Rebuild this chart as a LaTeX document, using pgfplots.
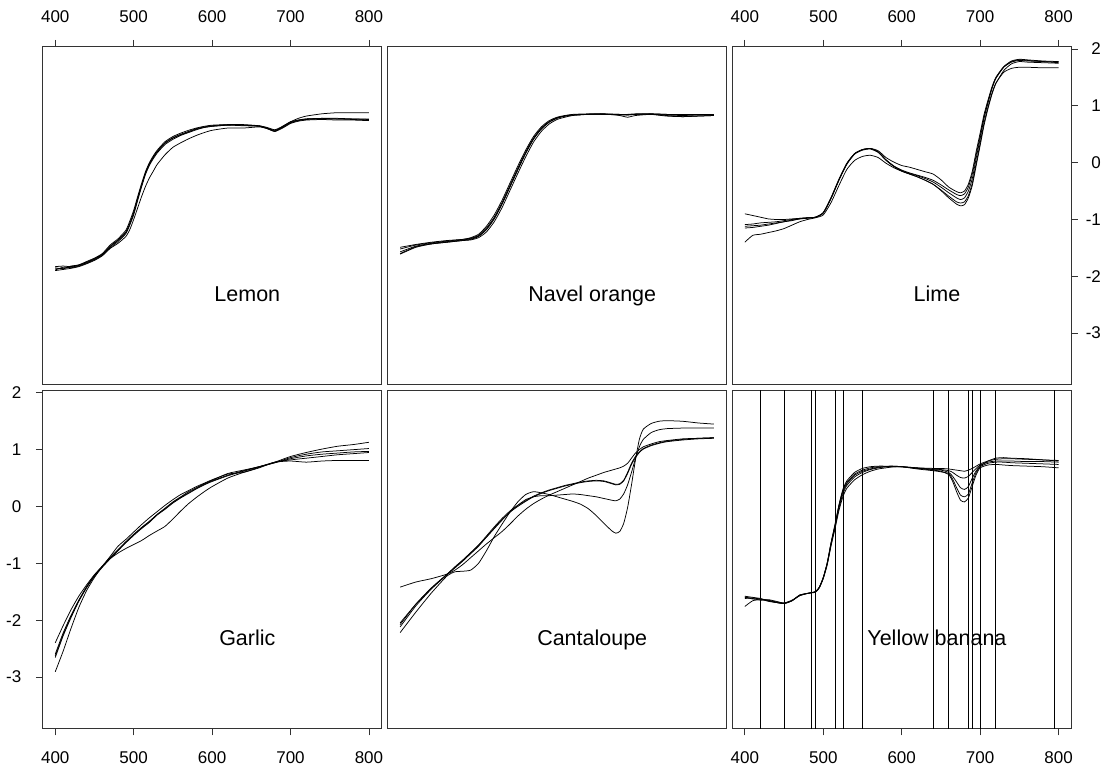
\documentclass[border=0pt]{standalone}
\usepackage{fontspec}
\setmainfont{Liberation Sans}
\usepackage{pgfplots}
\usepackage{pgfplotstable}
\pgfplotsset{compat=1.18}

\pgfplotstableread{
x a b c d e
400 -1.87 -1.83 -1.90 -1.85 -1.89
410 -1.86 -1.82 -1.88 -1.87 -1.84
420 -1.84 -1.83 -1.86 -1.82 -1.85
430 -1.81 -1.80 -1.83 -1.80 -1.82
440 -1.76 -1.74 -1.78 -1.75 -1.77
450 -1.70 -1.68 -1.72 -1.69 -1.71
460 -1.62 -1.60 -1.64 -1.61 -1.63
470 -1.47 -1.45 -1.51 -1.48 -1.50
480 -1.36 -1.34 -1.42 -1.37 -1.39
490 -1.22 -1.19 -1.30 -1.23 -1.25
495 -1.07 -1.03 -1.18 -1.08 -1.10
500 -0.88 -0.84 -1.00 -0.89 -0.92
505 -0.63 -0.60 -0.80 -0.64 -0.67
510 -0.40 -0.37 -0.60 -0.41 -0.43
515 -0.18 -0.16 -0.42 -0.19 -0.21
520 -0.02 0.00 -0.27 -0.03 -0.05
525 0.10 0.12 -0.15 0.09 0.07
530 0.20 0.22 -0.03 0.19 0.17
540 0.35 0.37 0.14 0.34 0.32
550 0.44 0.46 0.27 0.43 0.41
560 0.50 0.52 0.35 0.49 0.48
570 0.55 0.57 0.42 0.54 0.53
580 0.60 0.61 0.48 0.59 0.58
590 0.63 0.64 0.53 0.62 0.62
600 0.65 0.66 0.57 0.64 0.64
620 0.67 0.67 0.61 0.66 0.66
640 0.66 0.67 0.61 0.66 0.65
660 0.65 0.65 0.63 0.64 0.64
670 0.61 0.62 0.60 0.61 0.60
680 0.57 0.58 0.56 0.55 0.55
690 0.63 0.64 0.62 0.64 0.61
700 0.71 0.72 0.70 0.72 0.69
710 0.75 0.75 0.74 0.78 0.73
720 0.77 0.77 0.76 0.82 0.75
740 0.78 0.78 0.77 0.86 0.76
760 0.78 0.77 0.77 0.88 0.75
780 0.77 0.77 0.76 0.88 0.75
800 0.77 0.76 0.75 0.88 0.74
}\lemon

\pgfplotstableread{
x a b c d e
400 -1.57 -1.49 -1.60 -1.61 -1.52
420 -1.47 -1.44 -1.48 -1.49 -1.45
440 -1.42 -1.40 -1.43 -1.43 -1.41
460 -1.39 -1.37 -1.40 -1.40 -1.38
480 -1.36 -1.35 -1.37 -1.37 -1.35
490 -1.34 -1.32 -1.36 -1.35 -1.33
500 -1.29 -1.26 -1.32 -1.30 -1.28
510 -1.17 -1.12 -1.22 -1.18 -1.15
520 -0.98 -0.92 -1.04 -0.99 -0.96
530 -0.72 -0.66 -0.79 -0.73 -0.70
540 -0.42 -0.36 -0.49 -0.43 -0.40
550 -0.12 -0.06 -0.19 -0.13 -0.10
560 0.17 0.22 0.10 0.16 0.19
570 0.42 0.46 0.36 0.41 0.43
580 0.60 0.63 0.55 0.59 0.61
590 0.72 0.74 0.68 0.71 0.72
600 0.79 0.80 0.76 0.78 0.79
610 0.82 0.83 0.80 0.82 0.82
620 0.84 0.85 0.83 0.84 0.84
640 0.85 0.86 0.85 0.85 0.85
660 0.85 0.86 0.85 0.86 0.85
680 0.85 0.85 0.84 0.83 0.85
690 0.84 0.85 0.84 0.80 0.85
700 0.85 0.86 0.85 0.83 0.85
720 0.85 0.86 0.85 0.85 0.86
740 0.84 0.85 0.82 0.83 0.85
760 0.83 0.85 0.81 0.81 0.84
780 0.84 0.85 0.82 0.82 0.84
800 0.84 0.85 0.83 0.83 0.84
}\navel

\pgfplotstableread{
x a b c d e
400 -1.09 -0.90 -1.40 -1.12 -1.15
410 -1.08 -0.93 -1.28 -1.11 -1.14
420 -1.06 -0.96 -1.26 -1.10 -1.12
430 -1.05 -0.99 -1.23 -1.08 -1.10
440 -1.04 -1.00 -1.20 -1.06 -1.07
450 -1.02 -1.00 -1.16 -1.04 -1.04
460 -1.00 -0.99 -1.10 -1.02 -1.01
470 -0.98 -0.98 -1.04 -0.99 -0.99
480 -0.97 -0.97 -1.00 -0.98 -0.97
490 -0.96 -0.96 -0.97 -0.96 -0.96
500 -0.88 -0.88 -0.92 -0.89 -0.88
510 -0.62 -0.61 -0.70 -0.63 -0.62
520 -0.30 -0.29 -0.40 -0.31 -0.30
530 -0.02 -0.01 -0.12 -0.03 -0.02
540 0.16 0.16 0.04 0.15 0.16
550 0.23 0.23 0.11 0.22 0.23
560 0.25 0.25 0.13 0.24 0.25
570 0.19 0.21 0.09 0.18 0.19
580 0.05 0.09 -0.01 0.04 0.05
590 -0.06 0.01 -0.09 -0.07 -0.06
600 -0.14 -0.05 -0.15 -0.15 -0.13
610 -0.19 -0.08 -0.20 -0.20 -0.18
620 -0.23 -0.12 -0.25 -0.25 -0.22
630 -0.28 -0.16 -0.31 -0.31 -0.26
640 -0.34 -0.20 -0.38 -0.38 -0.31
650 -0.43 -0.30 -0.48 -0.49 -0.39
660 -0.53 -0.43 -0.59 -0.62 -0.48
670 -0.62 -0.51 -0.69 -0.73 -0.56
675 -0.65 -0.53 -0.71 -0.76 -0.58
680 -0.62 -0.50 -0.69 -0.74 -0.55
685 -0.50 -0.38 -0.58 -0.62 -0.43
690 -0.28 -0.15 -0.36 -0.40 -0.20
695 0.08 0.20 -0.01 -0.05 0.14
700 0.42 0.52 0.34 0.30 0.47
705 0.78 0.85 0.70 0.66 0.81
710 1.05 1.10 0.98 0.95 1.07
715 1.30 1.33 1.22 1.20 1.31
720 1.48 1.50 1.40 1.39 1.49
730 1.68 1.69 1.59 1.62 1.68
740 1.78 1.79 1.66 1.74 1.77
750 1.81 1.82 1.68 1.78 1.80
760 1.80 1.81 1.68 1.77 1.79
780 1.78 1.79 1.67 1.76 1.78
800 1.77 1.78 1.67 1.75 1.76
}\lime

\pgfplotstableread{
x a b c d e
400 -2.63 -2.40 -2.91 -2.60 -2.66
410 -2.26 -2.10 -2.55 -2.23 -2.28
420 -1.94 -1.82 -2.15 -1.92 -1.96
430 -1.66 -1.58 -1.78 -1.65 -1.67
440 -1.42 -1.38 -1.48 -1.41 -1.43
450 -1.22 -1.20 -1.25 -1.21 -1.23
460 -1.06 -1.05 -1.06 -1.05 -1.07
470 -0.91 -0.88 -0.92 -0.90 -0.92
480 -0.77 -0.70 -0.82 -0.76 -0.78
490 -0.63 -0.58 -0.74 -0.62 -0.64
500 -0.50 -0.45 -0.67 -0.49 -0.51
510 -0.38 -0.32 -0.60 -0.37 -0.39
520 -0.27 -0.20 -0.51 -0.26 -0.28
530 -0.14 -0.09 -0.43 -0.14 -0.15
540 -0.04 0.02 -0.35 -0.03 -0.05
550 0.07 0.12 -0.22 0.08 0.06
560 0.16 0.21 -0.08 0.17 0.15
570 0.24 0.28 0.05 0.26 0.23
580 0.32 0.35 0.16 0.33 0.31
590 0.39 0.41 0.26 0.40 0.38
600 0.45 0.47 0.35 0.46 0.44
620 0.55 0.57 0.50 0.58 0.54
640 0.63 0.60 0.60 0.64 0.62
660 0.70 0.68 0.69 0.70 0.70
680 0.77 0.78 0.78 0.78 0.77
700 0.84 0.82 0.88 0.80 0.86
720 0.89 0.85 0.95 0.78 0.92
740 0.92 0.88 1.01 0.80 0.96
760 0.94 0.91 1.06 0.81 0.98
780 0.96 0.93 1.09 0.81 1.00
800 0.97 0.95 1.13 0.81 1.02
}\garlic

\pgfplotstableread{
x a b c d e
400 -1.42 -2.22 -2.05 -2.08 -2.12
420 -1.33 -1.86 -1.72 -1.72 -1.75
440 -1.27 -1.52 -1.44 -1.43 -1.45
460 -1.19 -1.22 -1.19 -1.19 -1.20
470 -1.12 -1.15 -1.06 -1.07 -1.08
480 -1.02 -1.14 -0.94 -0.95 -0.96
490 -0.90 -1.12 -0.81 -0.82 -0.83
500 -0.78 -1.00 -0.68 -0.68 -0.70
510 -0.66 -0.78 -0.54 -0.52 -0.54
520 -0.55 -0.53 -0.39 -0.36 -0.38
530 -0.44 -0.31 -0.24 -0.21 -0.23
540 -0.31 -0.10 -0.10 -0.08 -0.10
550 -0.17 0.08 0.02 0.02 0.00
560 -0.05 0.21 0.12 0.10 0.09
570 0.05 0.26 0.17 0.18 0.17
580 0.13 0.24 0.19 0.24 0.23
590 0.20 0.21 0.19 0.29 0.28
600 0.26 0.17 0.20 0.33 0.32
610 0.32 0.13 0.21 0.37 0.36
620 0.38 0.09 0.22 0.40 0.39
630 0.44 0.04 0.21 0.43 0.42
640 0.50 -0.04 0.19 0.45 0.44
650 0.55 -0.16 0.17 0.46 0.45
660 0.60 -0.30 0.14 0.45 0.44
670 0.64 -0.43 0.11 0.41 0.40
675 0.66 -0.47 0.10 0.39 0.38
680 0.68 -0.44 0.13 0.40 0.39
685 0.71 -0.30 0.22 0.46 0.45
690 0.76 -0.02 0.38 0.60 0.58
695 0.85 0.38 0.60 0.76 0.74
700 0.94 0.82 0.84 0.88 0.86
705 1.00 1.18 1.05 0.96 0.95
710 1.05 1.36 1.18 1.02 1.01
720 1.10 1.46 1.30 1.08 1.07
730 1.14 1.50 1.35 1.12 1.11
740 1.16 1.51 1.37 1.15 1.14
760 1.19 1.50 1.38 1.18 1.17
780 1.20 1.47 1.38 1.20 1.19
800 1.21 1.45 1.38 1.21 1.20
}\cantaloupe

\pgfplotstableread{
x a b c d e
400 -1.58 -1.62 -1.60 -1.59 -1.76
410 -1.60 -1.61 -1.62 -1.63 -1.66
420 -1.62 -1.63 -1.65 -1.63 -1.64
430 -1.66 -1.65 -1.64 -1.67 -1.66
440 -1.69 -1.68 -1.67 -1.69 -1.69
450 -1.71 -1.70 -1.70 -1.71 -1.70
460 -1.66 -1.66 -1.65 -1.66 -1.66
470 -1.56 -1.56 -1.57 -1.56 -1.57
480 -1.53 -1.53 -1.53 -1.53 -1.53
490 -1.50 -1.50 -1.50 -1.50 -1.51
495 -1.42 -1.42 -1.43 -1.42 -1.43
500 -1.25 -1.25 -1.26 -1.25 -1.27
505 -0.99 -1.00 -1.01 -1.00 -1.03
510 -0.63 -0.64 -0.66 -0.65 -0.69
515 -0.31 -0.33 -0.36 -0.34 -0.39
520 0.03 0.02 -0.03 0.00 -0.07
525 0.30 0.28 0.22 0.26 0.17
530 0.45 0.42 0.37 0.40 0.32
540 0.60 0.57 0.52 0.55 0.47
550 0.67 0.64 0.60 0.62 0.56
560 0.70 0.68 0.65 0.66 0.62
570 0.71 0.70 0.68 0.69 0.66
580 0.71 0.70 0.70 0.70 0.68
590 0.71 0.71 0.70 0.70 0.70
600 0.70 0.70 0.70 0.70 0.70
620 0.68 0.67 0.68 0.66 0.67
640 0.67 0.66 0.65 0.63 0.64
650 0.67 0.65 0.64 0.61 0.62
660 0.66 0.63 0.60 0.58 0.56
665 0.65 0.60 0.53 0.48 0.44
670 0.64 0.55 0.43 0.33 0.26
675 0.63 0.51 0.33 0.20 0.11
680 0.62 0.50 0.30 0.17 0.08
685 0.64 0.53 0.35 0.22 0.15
690 0.67 0.60 0.50 0.42 0.36
695 0.71 0.67 0.63 0.60 0.56
700 0.75 0.73 0.71 0.70 0.68
710 0.80 0.78 0.80 0.76 0.73
720 0.83 0.80 0.85 0.78 0.74
730 0.84 0.80 0.86 0.78 0.73
740 0.84 0.80 0.85 0.77 0.72
760 0.83 0.79 0.84 0.76 0.71
780 0.82 0.79 0.82 0.75 0.70
800 0.81 0.78 0.80 0.74 0.68
}\banana

\pgfplotsset{
  panel/.style={
    scale only axis, width=338.8pt, height=338.3pt,
    xmin=384, xmax=816, ymin=-3.91, ymax=2.045,
    anchor=north west,
    tick align=outside, major tick length=6.7pt,
    axis line style={black!80, line width=0.75pt},
    every tick/.style={black!80, line width=0.75pt},
    xtick={400,500,600,700,800}, xticklabels={400,500,600,700,800},
    ytick={-3,-2,-1,0,1,2}, yticklabels={-3,-2,-1,0,1,2},
    ticklabel style={font=\fontsize{17}{17}\selectfont, inner sep=0pt},
  },
  noxt/.style={xtick=\empty},
  noyt/.style={ytick=\empty},
  topx/.style={xtick pos=upper, xticklabel pos=upper,
    xticklabel style={anchor=base, yshift=17.1pt}},
  botx/.style={xtick pos=lower, xticklabel pos=lower,
    xticklabel style={anchor=base, yshift=-28.2pt}},
  lefty/.style={ytick pos=lower, yticklabel pos=lower,
    yticklabel style={anchor=east, xshift=-14.5pt}},
  righty/.style={ytick pos=upper, yticklabel pos=upper,
    yticklabel style={anchor=east, xshift=23.3pt}},
  cv/.style={black, line width=0.75pt, smooth, tension=0.35, mark=none},
  vl/.style={black, line width=0.75pt, mark=none},
}
\newcommand{\panellabel}[1]{\node[anchor=base, font=\fontsize{21.5}{21.5}\selectfont] at (rel axis cs:0.604,0.246) {#1};}
\newcommand{\fivecurves}[1]{%
  \addplot[cv] table[x=x,y=a] {#1};
  \addplot[cv] table[x=x,y=b] {#1};
  \addplot[cv] table[x=x,y=c] {#1};
  \addplot[cv] table[x=x,y=d] {#1};
  \addplot[cv] table[x=x,y=e] {#1};
}

\begin{document}
\begin{tikzpicture}
\useasboundingbox (0pt,0pt) rectangle (1112pt,-767pt);

% Row 1
\begin{axis}[panel, at={(42.7pt,-46.5pt)}, topx, noyt]
\fivecurves{\lemon}
\panellabel{Lemon}
\end{axis}

\begin{axis}[panel, at={(387.6pt,-46.5pt)}, noxt, noyt]
\fivecurves{\navel}
\panellabel{Navel orange}
\end{axis}

\begin{axis}[panel, at={(732.3pt,-46.5pt)}, topx, righty]
\fivecurves{\lime}
\panellabel{Lime}
\end{axis}

% Row 2
\begin{axis}[panel, at={(42.7pt,-390.3pt)}, botx, lefty]
\fivecurves{\garlic}
\panellabel{Garlic}
\end{axis}

\begin{axis}[panel, at={(387.6pt,-390.3pt)}, noxt, noyt]
\fivecurves{\cantaloupe}
\panellabel{Cantaloupe}
\end{axis}

\begin{axis}[panel, at={(732.3pt,-390.3pt)}, botx, noyt]
\addplot[vl] coordinates {(420,-3.91) (420,2.045)};
\addplot[vl] coordinates {(450,-3.91) (450,2.045)};
\addplot[vl] coordinates {(485,-3.91) (485,2.045)};
\addplot[vl] coordinates {(490,-3.91) (490,2.045)};
\addplot[vl] coordinates {(515,-3.91) (515,2.045)};
\addplot[vl] coordinates {(525,-3.91) (525,2.045)};
\addplot[vl] coordinates {(550,-3.91) (550,2.045)};
\addplot[vl] coordinates {(640,-3.91) (640,2.045)};
\addplot[vl] coordinates {(660,-3.91) (660,2.045)};
\addplot[vl] coordinates {(685,-3.91) (685,2.045)};
\addplot[vl] coordinates {(690,-3.91) (690,2.045)};
\addplot[vl] coordinates {(700,-3.91) (700,2.045)};
\addplot[vl] coordinates {(720,-3.91) (720,2.045)};
\addplot[vl] coordinates {(795,-3.91) (795,2.045)};
\fivecurves{\banana}
\panellabel{Yellow banana}
\end{axis}
\end{tikzpicture}
\end{document}
